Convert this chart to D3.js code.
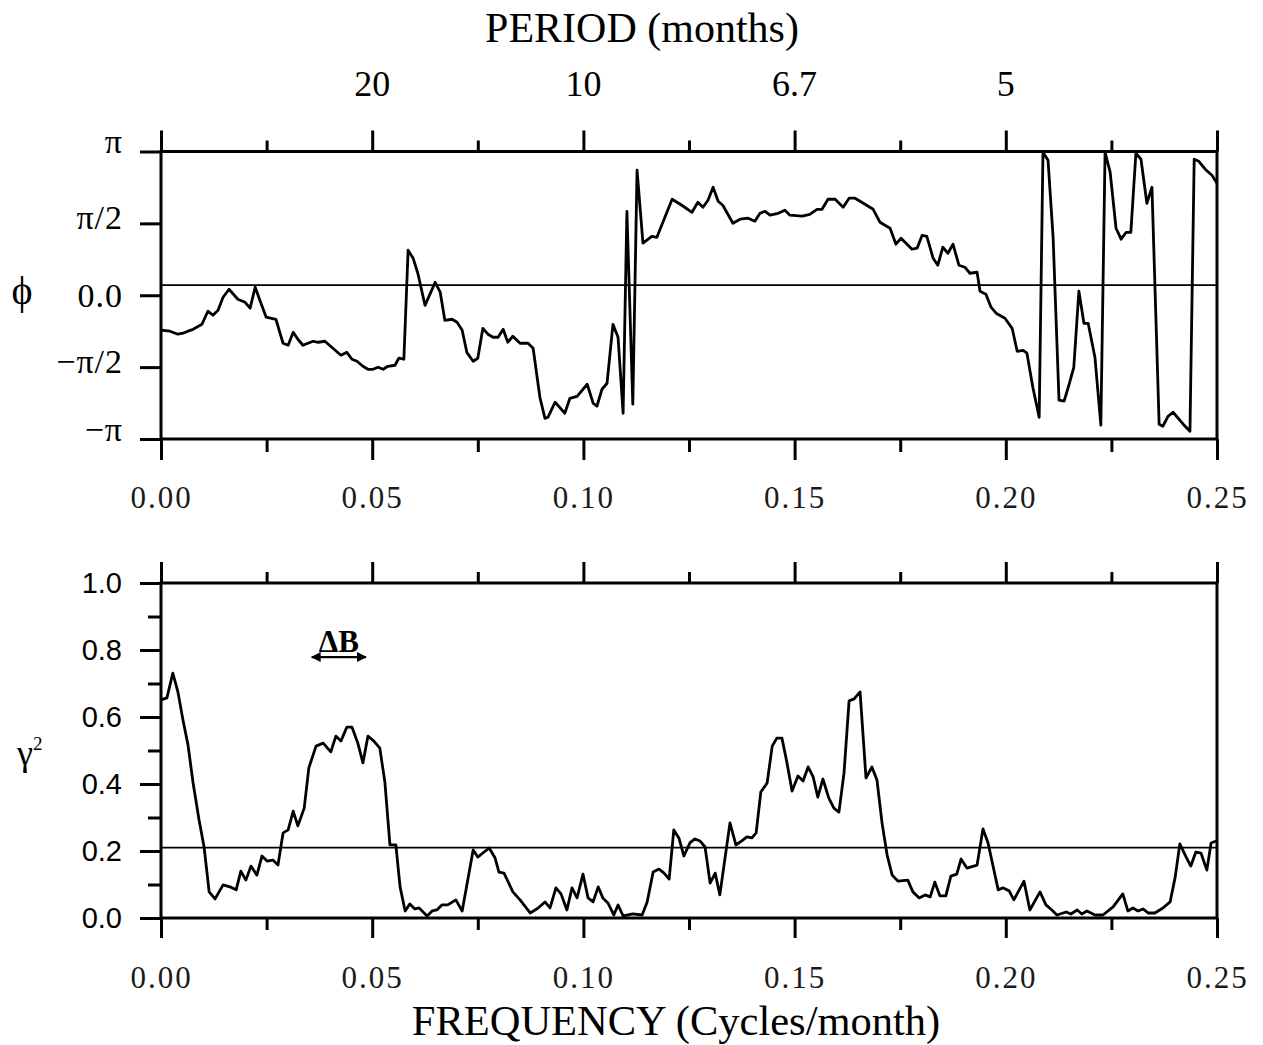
<!DOCTYPE html>
<html><head><meta charset="utf-8">
<script src="https://cdn.jsdelivr.net/npm/d3@7"></script>
<style>body{margin:0;background:#fff} svg{display:block}</style>
</head><body>
<svg id="c" width="1263" height="1045"></svg>
<script>
// ---------- DATA ----------
// Phase spectrum (units of pi) vs frequency (cycles/month)
const phaseFreq = [
0.0000,0.0021,0.0040,0.0052,0.0064,0.0076,0.0097,0.0111,0.0123,0.0135,
0.0147,0.0161,0.0182,0.0199,0.0211,0.0223,0.0234,0.0249,0.0272,0.0289,
0.0301,0.0313,0.0324,0.0336,0.0360,0.0372,0.0388,0.0407,0.0426,0.0440,
0.0452,0.0464,0.0478,0.0490,0.0502,0.0514,0.0526,0.0537,0.0554,0.0563,
0.0575,0.0585,0.0597,0.0608,0.0625,0.0649,0.0661,0.0672,0.0689,0.0701,
0.0713,0.0724,0.0739,0.0750,0.0762,0.0774,0.0786,0.0798,0.0810,0.0821,
0.0833,0.0850,0.0869,0.0881,0.0897,0.0909,0.0916,0.0933,0.0956,0.0968,
0.0985,0.1009,0.1023,0.1032,0.1044,0.1056,0.1070,0.1082,0.1094,0.1103,
0.1117,0.1127,0.1141,0.1162,0.1174,0.1210,0.1233,0.1257,0.1271,0.1283,
0.1295,0.1307,0.1319,0.1330,0.1354,0.1371,0.1390,0.1406,0.1418,0.1430,
0.1442,0.1461,0.1477,0.1489,0.1518,0.1536,0.1553,0.1565,0.1579,0.1596,
0.1615,0.1629,0.1643,0.1655,0.1686,0.1702,0.1726,0.1740,0.1752,0.1778,
0.1790,0.1802,0.1813,0.1828,0.1839,0.1851,0.1863,0.1875,0.1889,0.1903,
0.1915,0.1932,0.1939,0.1953,0.1965,0.1977,0.1998,0.2015,0.2027,0.2041,
0.2050,0.2064,0.2079,0.2088,0.2100,0.2112,0.2126,0.2138,0.2150,0.2161,
0.2173,0.2185,0.2195,0.2211,0.2225,0.2235,0.2247,0.2261,0.2273,0.2285,
0.2296,0.2308,0.2320,0.2334,0.2346,0.2363,0.2372,0.2384,0.2396,0.2420,
0.2436,0.2446,0.2457,0.2472,0.2488,0.2500];
const phaseVal = [
-0.243,-0.250,-0.271,-0.264,-0.250,-0.237,-0.202,-0.111,-0.139,-0.104,
-0.014,0.042,-0.028,-0.049,-0.090,0.056,-0.035,-0.153,-0.167,-0.334,
-0.348,-0.257,-0.306,-0.348,-0.320,-0.327,-0.320,-0.369,-0.417,-0.397,
-0.445,-0.459,-0.494,-0.515,-0.515,-0.501,-0.515,-0.494,-0.487,-0.438,
-0.445,0.313,0.257,0.153,-0.070,0.090,0.021,-0.174,-0.167,-0.188,
-0.243,-0.397,-0.459,-0.438,-0.230,-0.271,-0.292,-0.292,-0.237,-0.327,
-0.285,-0.334,-0.334,-0.369,-0.710,-0.856,-0.849,-0.744,-0.821,-0.717,
-0.703,-0.619,-0.751,-0.772,-0.654,-0.612,-0.202,-0.292,-0.821,0.584,
-0.758,0.870,0.362,0.410,0.403,0.668,0.626,0.577,0.647,0.612,
0.661,0.751,0.654,0.626,0.501,0.529,0.536,0.515,0.570,0.584,
0.557,0.570,0.591,0.557,0.550,0.563,0.598,0.598,0.668,0.668,
0.612,0.675,0.675,0.654,0.598,0.508,0.466,0.355,0.397,0.320,
0.327,0.417,0.410,0.257,0.209,0.334,0.292,0.355,0.209,0.195,
0.153,0.160,0.028,0.007,-0.083,-0.125,-0.160,-0.230,-0.390,-0.383,
-0.403,-0.640,-0.849,0.995,0.939,0.403,-0.730,-0.737,-0.619,-0.501,
0.028,-0.195,-0.195,-0.431,-0.904,0.995,0.856,0.466,0.390,0.438,
0.438,0.988,0.946,0.640,0.751,-0.897,-0.911,-0.842,-0.814,-0.897,
-0.946,0.946,0.932,0.877,0.835,0.779];

// Squared coherence vs frequency
const cohFreq = [
0.0000,0.0014,0.0028,0.0040,0.0052,0.0064,0.0076,0.0090,0.0102,0.0114,
0.0128,0.0147,0.0163,0.0178,0.0189,0.0201,0.0213,0.0227,0.0239,0.0251,
0.0265,0.0277,0.0289,0.0301,0.0313,0.0324,0.0339,0.0350,0.0367,0.0384,
0.0402,0.0414,0.0426,0.0440,0.0452,0.0466,0.0478,0.0490,0.0504,0.0518,
0.0530,0.0542,0.0556,0.0566,0.0578,0.0589,0.0601,0.0611,0.0630,0.0642,
0.0653,0.0665,0.0679,0.0698,0.0713,0.0739,0.0750,0.0765,0.0777,0.0791,
0.0800,0.0812,0.0833,0.0850,0.0874,0.0893,0.0909,0.0921,0.0935,0.0947,
0.0961,0.0973,0.0985,0.0999,0.1011,0.1023,0.1035,0.1046,0.1058,0.1072,
0.1082,0.1094,0.1117,0.1139,0.1151,0.1165,0.1179,0.1191,0.1203,0.1214,
0.1226,0.1238,0.1252,0.1264,0.1276,0.1288,0.1300,0.1312,0.1323,0.1347,
0.1361,0.1375,0.1387,0.1399,0.1409,0.1420,0.1435,0.1447,0.1458,0.1470,
0.1482,0.1494,0.1508,0.1520,0.1532,0.1544,0.1555,0.1567,0.1581,0.1593,
0.1605,0.1617,0.1629,0.1641,0.1655,0.1669,0.1683,0.1695,0.1707,0.1719,
0.1731,0.1745,0.1768,0.1780,0.1795,0.1809,0.1821,0.1832,0.1844,0.1858,
0.1870,0.1884,0.1894,0.1908,0.1932,0.1946,0.1958,0.1982,0.1993,0.2008,
0.2019,0.2043,0.2057,0.2081,0.2095,0.2109,0.2121,0.2143,0.2154,0.2169,
0.2180,0.2192,0.2211,0.2230,0.2254,0.2277,0.2289,0.2301,0.2313,0.2325,
0.2337,0.2353,0.2372,0.2389,0.2401,0.2412,0.2427,0.2438,0.2450,0.2462,
0.2476,0.2486,0.2498];
const cohVal = [
0.651,0.657,0.731,0.675,0.591,0.516,0.403,0.293,0.212,0.078,
0.057,0.099,0.093,0.084,0.140,0.113,0.155,0.128,0.185,0.170,
0.173,0.158,0.254,0.263,0.319,0.275,0.328,0.448,0.513,0.522,
0.496,0.543,0.528,0.570,0.570,0.522,0.463,0.543,0.528,0.507,
0.406,0.218,0.218,0.093,0.021,0.042,0.027,0.030,0.006,0.021,
0.024,0.039,0.039,0.054,0.021,0.203,0.182,0.197,0.209,0.179,
0.137,0.134,0.078,0.054,0.015,0.030,0.048,0.030,0.090,0.072,
0.024,0.090,0.060,0.131,0.060,0.048,0.093,0.060,0.045,0.009,
0.039,0.006,0.012,0.009,0.048,0.137,0.146,0.134,0.116,0.263,
0.239,0.185,0.224,0.236,0.230,0.212,0.104,0.134,0.069,0.284,
0.218,0.230,0.242,0.239,0.254,0.376,0.403,0.513,0.537,0.537,
0.463,0.379,0.424,0.409,0.451,0.421,0.361,0.415,0.358,0.328,
0.316,0.433,0.648,0.654,0.675,0.418,0.451,0.412,0.284,0.188,
0.128,0.110,0.113,0.078,0.060,0.069,0.063,0.107,0.066,0.066,
0.125,0.131,0.176,0.149,0.158,0.266,0.224,0.084,0.090,0.081,
0.054,0.110,0.024,0.078,0.039,0.024,0.009,0.018,0.012,0.024,
0.012,0.021,0.009,0.009,0.033,0.072,0.021,0.030,0.021,0.027,
0.015,0.015,0.030,0.048,0.122,0.221,0.182,0.155,0.197,0.194,
0.143,0.224,0.230];

const phaseRefLevel = 0.07;   // units of pi
const cohRefLevel = 0.21;
const bandwidthRange = [0.0357, 0.0485];
const bandwidthLevel = 0.779;

const freqTicks = [0, 0.05, 0.10, 0.15, 0.20, 0.25];
const freqMinorTicks = [0.025, 0.075, 0.125, 0.175, 0.225];
const periodTicks = [20, 10, 6.667, 5];
const periodLabels = ["20", "10", "6.7", "5"];
const phaseTicks = [-1, -0.5, 0, 0.5, 1];
const phaseLabels = ["\u2212\u03c0", "\u2212\u03c0/2", "0.0", "\u03c0/2", "\u03c0"];
const cohTicks = [0, 0.2, 0.4, 0.6, 0.8, 1.0];
const cohMinorTicks = [0.1, 0.3, 0.5, 0.7, 0.9];

// ---------- DRAW ----------
const svg = d3.select("#c");
svg.append("rect").attr("width",1263).attr("height",1045).attr("fill","#fff");
const SERIF = "'Liberation Serif','Times New Roman',serif";
const SANS = "'Liberation Sans',Arial,sans-serif";

const x = d3.scaleLinear().domain([0, 0.25]).range([161, 1217]);
const yP = d3.scaleLinear().domain([-1, 1]).range([439, 151.5]);
const yC = d3.scaleLinear().domain([0, 1]).range([918, 583]);

function tickStyle(g) {
  g.select(".domain").remove();
  g.selectAll(".tick line").attr("stroke", "#000").attr("stroke-width", 3);
}
function addAxis(axis, tx, ty) {
  const g = svg.append("g").attr("transform", `translate(${tx},${ty})`).call(axis);
  tickStyle(g);
  return g;
}

// ---- Top panel (phase) ----
addAxis(d3.axisTop(x).tickValues(freqTicks).tickSize(21).tickFormat(""), 0, yP(1));
addAxis(d3.axisTop(x).tickValues(freqMinorTicks).tickSize(11).tickFormat(""), 0, yP(1));
const gxb1 = addAxis(d3.axisBottom(x).tickValues(freqTicks).tickSize(21).tickPadding(26).tickFormat(d3.format(".2f")), 0, yP(-1));
addAxis(d3.axisBottom(x).tickValues(freqMinorTicks).tickSize(13).tickFormat(""), 0, yP(-1));
const gyl1 = addAxis(d3.axisLeft(yP).tickValues(phaseTicks).tickSize(21).tickPadding(17)
  .tickFormat((d, i) => phaseLabels[i]), x(0), 0);
gyl1.attr("font-family", SERIF).attr("font-size", 34);
gyl1.selectAll(".tick text").attr("dy", d => d === 0 ? "0.32em" : (Math.abs(d) === 0.5 ? "0.15em" : "0.04em"))
  .attr("letter-spacing", 1);

// period labels on top
svg.append("g").selectAll("text").data(periodTicks).join("text")
  .attr("x", d => x(1 / d)).attr("y", 96).attr("text-anchor", "middle")
  .attr("font-family", SERIF).attr("font-size", 36)
  .text((d, i) => periodLabels[i]);
svg.append("text").attr("x", 642).attr("y", 42).attr("text-anchor", "middle")
  .attr("font-family", SERIF).attr("font-size", 42).text("PERIOD (months)");

// frame
svg.append("rect").attr("x", x(0)).attr("y", yP(1)).attr("width", x(0.25) - x(0)).attr("height", yP(-1) - yP(1))
  .attr("fill", "none").attr("stroke", "#000").attr("stroke-width", 3);
// reference
svg.append("line").attr("x1", x(0)).attr("x2", x(0.25)).attr("y1", yP(phaseRefLevel)).attr("y2", yP(phaseRefLevel))
  .attr("stroke", "#000").attr("stroke-width", 1.8);
// data
svg.append("path").datum(d3.range(phaseFreq.length))
  .attr("d", d3.line().x(i => x(phaseFreq[i])).y(i => yP(phaseVal[i])))
  .attr("fill", "none").attr("stroke", "#000").attr("stroke-width", 2.8).attr("stroke-linejoin", "round");

svg.append("text").attr("x", 22).attr("y", 304).attr("text-anchor", "middle")
  .attr("font-family", SERIF).attr("font-size", 40).text("\u03d5");

// ---- Bottom panel (coherence) ----
addAxis(d3.axisTop(x).tickValues(freqTicks).tickSize(21).tickFormat(""), 0, yC(1));
addAxis(d3.axisTop(x).tickValues(freqMinorTicks).tickSize(11).tickFormat(""), 0, yC(1));
const gxb2 = addAxis(d3.axisBottom(x).tickValues(freqTicks).tickSize(20).tickPadding(28).tickFormat(d3.format(".2f")), 0, yC(0));
addAxis(d3.axisBottom(x).tickValues(freqMinorTicks).tickSize(12).tickFormat(""), 0, yC(0));
const gyl2 = addAxis(d3.axisLeft(yC).tickValues(cohTicks).tickSize(21).tickPadding(18).tickFormat(d3.format(".1f")), x(0), 0);
gyl2.attr("font-family", SANS).attr("font-size", 29);
addAxis(d3.axisLeft(yC).tickValues(cohMinorTicks).tickSize(13).tickFormat(""), x(0), 0);

[gxb1, gxb2].forEach(g => {
  g.attr("font-family", SERIF).attr("font-size", 31);
  g.selectAll(".tick text").attr("letter-spacing", 2).attr("fill", "#1a1a1a");
});

svg.append("rect").attr("x", x(0)).attr("y", yC(1)).attr("width", x(0.25) - x(0)).attr("height", yC(0) - yC(1))
  .attr("fill", "none").attr("stroke", "#000").attr("stroke-width", 3);
svg.append("line").attr("x1", x(0)).attr("x2", x(0.25)).attr("y1", yC(cohRefLevel)).attr("y2", yC(cohRefLevel))
  .attr("stroke", "#000").attr("stroke-width", 1.8);
svg.append("path").datum(d3.range(cohFreq.length))
  .attr("d", d3.line().x(i => x(cohFreq[i])).y(i => yC(cohVal[i])))
  .attr("fill", "none").attr("stroke", "#000").attr("stroke-width", 2.8).attr("stroke-linejoin", "round");

// gamma^2 label
const gl = svg.append("text").attr("x", 17).attr("y", 765).attr("font-family", SERIF).attr("font-size", 36);
gl.append("tspan").text("\u03b3");
gl.append("tspan").attr("font-size", 19).attr("dy", -15).text("2");

// Delta B bandwidth marker
const defs = svg.append("defs");
defs.append("marker").attr("id", "ah").attr("viewBox", "0 0 10 10").attr("refX", 9).attr("refY", 5)
  .attr("markerWidth", 4.5).attr("markerHeight", 4.5).attr("orient", "auto-start-reverse")
  .append("path").attr("d", "M0,0 L10,5 L0,10 z").attr("fill", "#000");
const yb = yC(bandwidthLevel);
svg.append("line").attr("x1", x(bandwidthRange[0])).attr("x2", x(bandwidthRange[1])).attr("y1", yb).attr("y2", yb)
  .attr("stroke", "#000").attr("stroke-width", 2.2)
  .attr("marker-start", "url(#ah)").attr("marker-end", "url(#ah)");
svg.append("text").attr("x", (x(bandwidthRange[0]) + x(bandwidthRange[1])) / 2).attr("y", yb - 5)
  .attr("text-anchor", "middle").attr("font-family", SERIF).attr("font-weight", "bold").attr("font-size", 31)
  .text("\u0394B");

svg.append("text").attr("x", 676).attr("y", 1035).attr("text-anchor", "middle")
  .attr("font-family", SERIF).attr("font-size", 42.5).text("FREQUENCY (Cycles/month)");
</script>
</body></html>
